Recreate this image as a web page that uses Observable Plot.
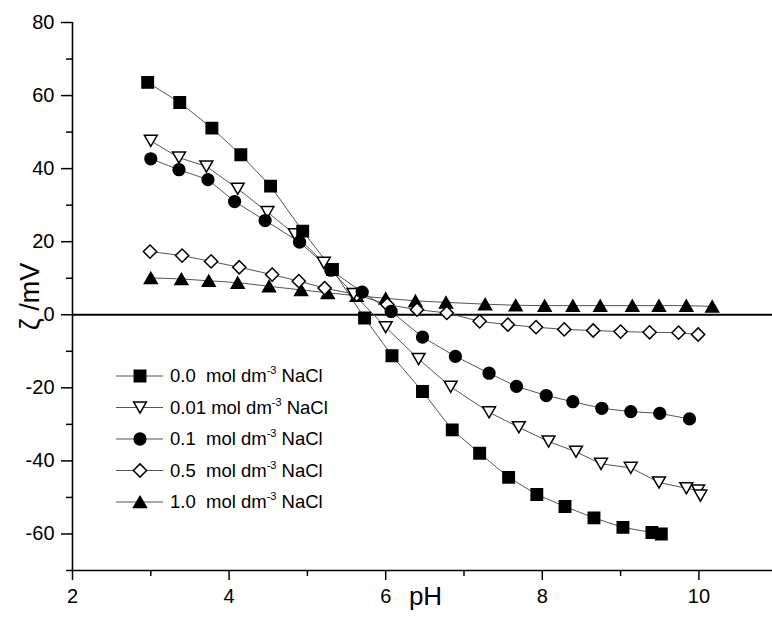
<!DOCTYPE html>
<html><head><meta charset="utf-8">
<script src="https://cdn.jsdelivr.net/npm/d3@7"></script>
<script src="https://cdn.jsdelivr.net/npm/@observablehq/plot@0.6"></script>
<style>body{margin:0;background:#fff} #chart svg{display:block}</style>
</head><body><div id="chart"></div>
<script>
// ---- data ----
const concentrations = ["0.0 ", "0.01", "0.1 ", "0.5 ", "1.0 "];

const pH_000 = [2.96, 3.37, 3.78, 4.15, 4.53, 4.94, 5.32, 5.73, 6.08, 6.47, 6.85, 7.20, 7.57, 7.93, 8.29, 8.66, 9.03, 9.40, 9.52];
const zeta_000 = [63.6, 58.1, 51.1, 43.8, 35.2, 22.9, 12.4, -0.9, -11.2, -21.0, -31.5, -37.9, -44.5, -49.2, -52.5, -55.6, -58.2, -59.6, -60.0];

const pH_001 = [3.00, 3.36, 3.71, 4.11, 4.49, 4.84, 5.21, 5.59, 6.00, 6.42, 6.83, 7.32, 7.70, 8.08, 8.43, 8.75, 9.13, 9.49, 9.84, 9.99, 10.02];
const zeta_001 = [47.6, 43.0, 40.6, 34.5, 28.1, 22.0, 14.2, 5.7, -3.4, -12.1, -19.7, -26.7, -30.8, -34.7, -37.5, -40.8, -41.9, -45.9, -47.5, -48.1, -49.5];

const pH_01 = [3.00, 3.36, 3.73, 4.07, 4.46, 4.90, 5.30, 5.70, 6.07, 6.47, 6.89, 7.32, 7.67, 8.05, 8.39, 8.76, 9.13, 9.50, 9.88];
const zeta_01 = [42.7, 39.7, 37.0, 31.0, 25.8, 19.9, 12.2, 6.2, 0.9, -6.1, -11.4, -16.0, -19.6, -22.1, -23.8, -25.6, -26.5, -27.0, -28.5];

const pH_05 = [2.99, 3.40, 3.77, 4.13, 4.55, 4.89, 5.22, 5.63, 6.02, 6.40, 6.78, 7.20, 7.56, 7.92, 8.28, 8.65, 9.00, 9.37, 9.74, 9.99];
const zeta_05 = [17.3, 16.2, 14.6, 13.0, 11.0, 9.2, 7.3, 5.5, 2.8, 1.4, 0.5, -1.8, -2.7, -3.4, -4.0, -4.3, -4.6, -4.8, -4.9, -5.4];

const pH_10 = [3.00, 3.39, 3.74, 4.11, 4.51, 4.92, 5.26, 5.63, 6.00, 6.38, 6.77, 7.27, 7.66, 8.03, 8.39, 8.74, 9.15, 9.49, 9.84, 10.17];
const zeta_10 = [10.1, 9.8, 9.3, 8.8, 7.8, 6.8, 6.0, 5.2, 4.5, 3.8, 3.4, 2.9, 2.6, 2.5, 2.5, 2.5, 2.5, 2.5, 2.5, 2.3];

const yMajor = [-60, -40, -20, 0, 20, 40, 60, 80];
const yMinor = [-70, -50, -30, -10, 10, 30, 50, 70];
const xMajor = [2, 4, 6, 8, 10];
const xMinor = [3, 5, 7, 9];

// ---- custom symbols ----
const rad = s => Math.sqrt(s / Math.PI);
const square = {draw(c, s){ const h = rad(s) * 0.95; c.rect(-h, -h, 2*h, 2*h); }};
const circle = {draw(c, s){ const r = rad(s) * 0.98; c.moveTo(r, 0); c.arc(0, 0, r, 0, 2*Math.PI); }};
const triUp = {draw(c, s){ const w = rad(s) * 1.07, h = w * Math.sqrt(3) / 2; c.moveTo(0, -h); c.lineTo(w, h); c.lineTo(-w, h); c.closePath(); }};
const triDown = {draw(c, s){ const w = rad(s) * 1.07, h = w * Math.sqrt(3) / 2; c.moveTo(0, h); c.lineTo(w, -h); c.lineTo(-w, -h); c.closePath(); }};
const diamond = {draw(c, s){ const d = rad(s) * 1.1; c.moveTo(0, -d); c.lineTo(d, 0); c.lineTo(0, d); c.lineTo(-d, 0); c.closePath(); }};

const pHs = [pH_000, pH_001, pH_01, pH_05, pH_10];
const zetas = [zeta_000, zeta_001, zeta_01, zeta_05, zeta_10];
const symbols = [square, triDown, circle, diamond, triUp];
const fills = ["black", "white", "black", "white", "black"];

const tables = pHs.map((xs, i) => xs.map((x, j) => ({pH: x, zeta: zetas[i][j]})));

const R = 6;
const font = "'Liberation Sans', Arial, Helvetica, sans-serif";

const marks = [
  Plot.ruleY([0], {strokeWidth: 2, stroke: "black"}),
  Plot.ruleX([2], {strokeWidth: 1.6, stroke: "black"}),
  Plot.ruleY([-70], {strokeWidth: 1.6, stroke: "black"}),
  Plot.axisY({ticks: yMajor, tickSize: 11, tickPadding: 7, fontSize: 20, strokeWidth: 1.5, label: null, tickFormat: d => String(d)}),
  Plot.axisY({ticks: yMinor, tickSize: 6, strokeWidth: 1.5, text: null, label: null}),
  Plot.axisX({ticks: xMajor, tickSize: 10, tickPadding: 8, fontSize: 20, strokeWidth: 1.5, label: null}),
  Plot.axisX({ticks: xMinor, tickSize: 6, strokeWidth: 1.5, text: null, label: null}),
  Plot.text(["pH"], {text: d => d, frameAnchor: "bottom", dy: 34, dx: 3, fontSize: 26, textAnchor: "middle"}),
  Plot.text(["ζ /mV"], {text: d => d, frameAnchor: "left", rotate: -90, dx: -42, fontSize: 27, textAnchor: "middle"}),
  ...tables.map(t => Plot.line(t, {x: "pH", y: "zeta", stroke: "#555", strokeWidth: 1})),
  ...[4, 3, 1, 2, 0].map(i => Plot.dot(tables[i], {x: "pH", y: "zeta", r: R, symbol: symbols[i], fill: fills[i], stroke: "black", strokeWidth: 1.5}))
];

const chart = Plot.plot({
  width: 772, height: 618,
  marginLeft: 72, marginRight: 0, marginTop: 22, marginBottom: 48,
  x: {domain: [2, 10.94]},
  y: {domain: [-70, 80]},
  style: {fontFamily: font, background: "white", color: "black"},
  marks
});
document.getElementById("chart").appendChild(chart);

// ---- legend inside the plot area ----
const svg = d3.select(chart);
const lg = svg.append("g").attr("font-family", font).attr("font-size", 18.5).attr("fill", "black").attr("text-anchor", "start");
const rowTop = 376, rowStep = 31.5;
concentrations.forEach((c, i) => {
  const y = rowTop + i * rowStep;
  lg.append("line").attr("x1", 116).attr("x2", 163).attr("y1", y).attr("y2", y).attr("stroke", "#555").attr("stroke-width", 1);
  lg.append("path").attr("transform", `translate(140,${y})`)
    .attr("d", d3.symbol(symbols[i], Math.PI * R * R)())
    .attr("fill", fills[i]).attr("stroke", "black").attr("stroke-width", 1.5);
  const t = lg.append("text").attr("x", 170).attr("y", y).attr("dy", "0.35em").attr("text-anchor", "start").style("white-space", "pre");
  t.append("tspan").text(c + " mol dm");
  t.append("tspan").attr("font-size", 11).attr("dy", -8).text("-3");
  t.append("tspan").attr("dy", 8).text(" NaCl");
});
</script>
</body></html>
